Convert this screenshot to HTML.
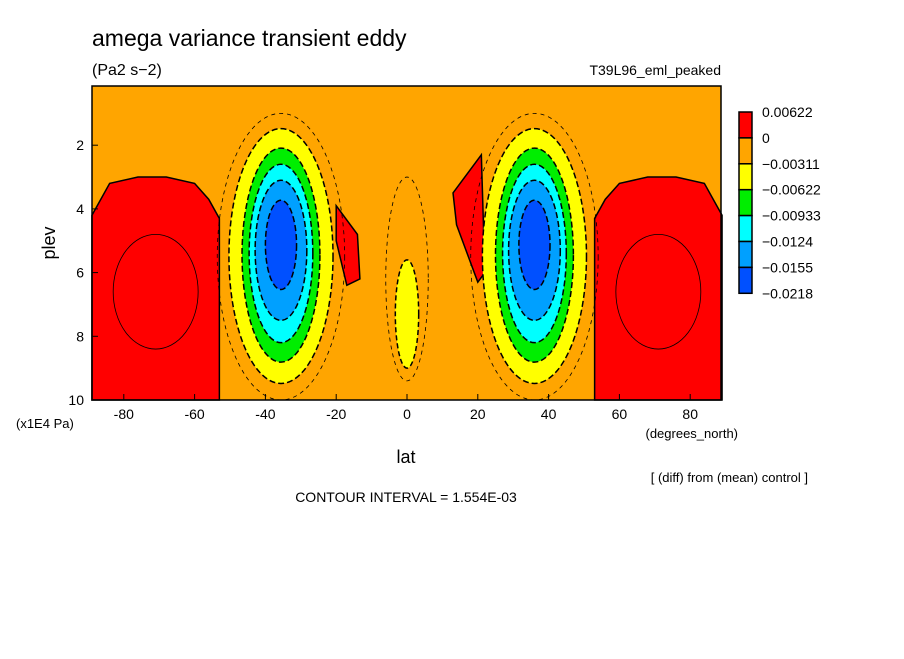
<!DOCTYPE html>
<html><head><meta charset="utf-8"><style>
body{margin:0;background:#fff;width:904px;height:654px;overflow:hidden}
svg text{font-family:"Liberation Sans",sans-serif}
</style></head><body>
<svg id="s" width="904" height="654" xmlns="http://www.w3.org/2000/svg">
<text x="92" y="46" font-size="23">amega variance transient eddy</text>
<text x="92" y="75" font-size="16">(Pa2 s−2)</text>
<text x="721" y="75" font-size="14" text-anchor="end">T39L96_eml_peaked</text>
<g id="plot"></g>
<g id="axes"></g>
<g id="cbar"></g>
<text x="16" y="428" font-size="13">(x1E4 Pa)</text>
<text x="738" y="438" font-size="13" text-anchor="end">(degrees_north)</text>
<text x="406" y="463" font-size="18" text-anchor="middle">lat</text>
<text x="55" y="243" font-size="18" text-anchor="middle" transform="rotate(-90 55 243)">plev</text>
<text x="808" y="482" font-size="13" text-anchor="end">[ (diff) from (mean) control ]</text>
<text x="406" y="502" font-size="14" text-anchor="middle">CONTOUR INTERVAL = 1.554E-03</text>
</svg>
<script>
const latTicks=[-80,-60,-40,-20,0,20,40,60,80];
const plevTicks=[2,4,6,8,10];
const cbarLabels=["0.00622","0","−0.00311","−0.00622","−0.00933","−0.0124","−0.0155","−0.0218"];
const cbarColors=["#ff0000","#ffa500","#ffff00","#00ee00","#00ffff","#00a0ff","#0050ff"];
const blobLat=[-35.6,36];
const blobHalfWidth=[14.7,11,9,7.3,4.4];
const blobHalfHeight=[4.0,3.36,2.8,2.2,1.4];
const blobCenterPlev=[5.48,5.45,5.4,5.3,5.13];
const blobColor=[2,3,4,5,6];
const redLat=[-89,-84,-76,-68,-60,-56,-53,-53,-89];
const redPlev=[4.2,3.2,3.0,3.0,3.2,3.7,4.3,10,10];
const smallRedLat=[-20,-14,-13.3,-17,-20];
const smallRedPlev=[3.9,4.8,6.2,6.4,5.0];
const smallRedNLat=[13,21,22,20,14];
const smallRedNPlev=[3.5,2.3,6.0,6.3,4.5];
const eqLat=[0];const eqPlev=[7.3];

const X=l=>407+l*3.54, Y=p=>400-(10-p)*31.85;
const NS="http://www.w3.org/2000/svg";
function mk(t,a,par){const e=document.createElementNS(NS,t);for(const k in a)e.setAttribute(k,a[k]);par.appendChild(e);return e;}
const plot=document.getElementById('plot'),axes=document.getElementById('axes'),cb=document.getElementById('cbar');
let bg=mk('rect',{x:92,y:86,width:629,height:314,fill:'#ffa500'},plot);


function poly(la,pl,sign,name){const pts=la.map((l,i)=>X(sign*l)+','+Y(pl[i])).join(' ');
 const p=mk('polygon',{points:pts,fill:'#ff0000',stroke:'#000','stroke-width':1.5},plot);
 
 }
poly(redLat,redPlev,1,'red-region-south');
poly(redLat,redPlev,-1,'red-region-north');
[-1,1].forEach(s=>mk('ellipse',{cx:X(s*71),cy:Y(6.6),rx:12*3.54,ry:1.8*31.85,fill:'none',stroke:'#000','stroke-width':0.8},plot));
poly(smallRedLat,smallRedPlev,1,'red-patch-south');
poly(smallRedNLat,smallRedNPlev,1,'red-patch-north');
mk('ellipse',{cx:X(0),cy:Y(6.2),rx:6*3.54,ry:3.2*31.85,fill:'none',stroke:'#000','stroke-width':0.8,'stroke-dasharray':'4,4'},plot);
let eq=mk('ellipse',{cx:X(eqLat[0]),cy:Y(eqPlev[0]),rx:3.3*3.54,ry:1.7*31.85,fill:'#ffff00',stroke:'#000','stroke-width':1.5,'stroke-dasharray':'5,3'},plot);


blobLat.forEach((bl,b)=>{
 mk('ellipse',{cx:X(bl),cy:Y(5.5),rx:18*3.54,ry:4.5*31.85,fill:'none',stroke:'#000','stroke-width':0.8,'stroke-dasharray':'4,4'},plot);
 blobHalfWidth.forEach((hw,i)=>{
  const e=mk('ellipse',{cx:X(bl),cy:Y(blobCenterPlev[i]),rx:hw*3.54,ry:blobHalfHeight[i]*31.85,fill:cbarColors[blobColor[i]],stroke:'#000','stroke-width':1.5,'stroke-dasharray':'6,3'},plot);
  
  
 });
});
mk('rect',{x:92,y:86,width:629,height:314,fill:'none',stroke:'#000','stroke-width':1.5},axes);
latTicks.forEach(l=>{mk('line',{x1:X(l),x2:X(l),y1:400,y2:394,stroke:'#000'},axes);
 const t=mk('text',{x:X(l),y:419,'font-size':14,'text-anchor':'middle'},axes);t.textContent=l;
 
 });
plevTicks.forEach(p=>{mk('line',{x1:92,x2:98,y1:Y(p),y2:Y(p),stroke:'#000'},axes);
 const t=mk('text',{x:84,y:Y(p)+5,'font-size':14,'text-anchor':'end'},axes);t.textContent=p;
 
 });
cbarColors.forEach((c,i)=>{const r=mk('rect',{x:739,y:112+i*25.9,width:13,height:25.9,fill:c,stroke:'#000','stroke-width':1.5},cb);
 
 });
cbarLabels.forEach((s,i)=>{const t=mk('text',{x:762,y:117+i*25.9,'font-size':14},cb);t.textContent=s;
 
 });
</script>
</body></html>
